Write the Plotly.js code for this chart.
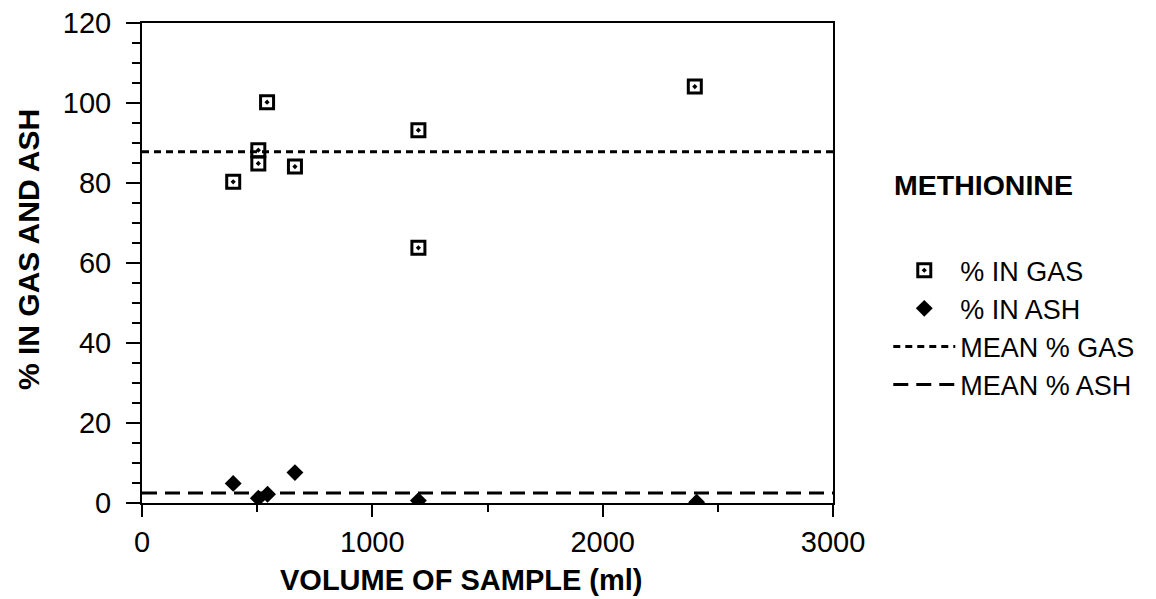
<!DOCTYPE html>
<html><head><meta charset="utf-8">
<script src="https://cdn.plot.ly/plotly-3.0.1.min.js"></script>
<style>html,body{margin:0;padding:0;background:#fff}</style>
</head><body>
<div id="chart" style="width:1156px;height:599px"></div>
<script>
const gasVolume = [396, 505, 505, 543, 664, 1200, 1200, 2400];
const gasPercent = [80.3, 88.2, 84.9, 100.2, 84.1, 93.2, 63.8, 104.1];
const ashVolume = [396, 505, 545, 664, 1200, 2408];
const ashPercent = [4.9, 1.2, 2.2, 7.6, 0.6, 0.2];
const meanRange = [0, 3000];
const meanGas = 87.8;
const meanAsh = 2.5;
const xTicks = [0, 1000, 2000, 3000];
const yTicks = [0, 20, 40, 60, 80, 100, 120];
const seriesNames = ['% IN GAS', '% IN ASH', 'MEAN % GAS', 'MEAN % ASH'];
const compoundName = 'METHIONINE';
const xTitle = 'VOLUME OF SAMPLE (ml)';
const yTitle = '% IN GAS AND ASH';

const FONT = 'Liberation Sans, Arial, Helvetica, sans-serif';

const traces = [
  {x: gasVolume, y: gasPercent, name: seriesNames[0], type: 'scatter', mode: 'markers', legendgroup: 'a',
   marker: {symbol: 'square-open-dot', size: 13, color: 'black', line: {width: 3, color: 'black'}}},
  {x: ashVolume, y: ashPercent, name: seriesNames[1], type: 'scatter', mode: 'markers', legendgroup: 'b',
   marker: {symbol: 'diamond', size: 13, color: 'black'}},
  {x: meanRange, y: [meanGas, meanGas], name: seriesNames[2], type: 'scatter', mode: 'lines', legendgroup: 'c',
   line: {color: 'black', width: 3, dash: '7px,5px'}},
  {x: meanRange, y: [meanAsh, meanAsh], name: seriesNames[3], type: 'scatter', mode: 'lines', legendgroup: 'd',
   line: {color: 'black', width: 3, dash: '15px,8px'}}
];

const axisCommon = {
  showline: true, linewidth: 2, linecolor: 'black', mirror: true,
  showgrid: false, zeroline: false,
  ticks: 'outside', tickwidth: 2, tickcolor: 'black',
  tickfont: {family: FONT, size: 29, color: 'black'}
};

const layout = {
  width: 1156, height: 599,
  paper_bgcolor: 'white', plot_bgcolor: 'white',
  margin: {l: 142, r: 323, t: 23, b: 96},
  showlegend: true,
  font: {family: FONT, color: 'black'},
  xaxis: Object.assign({}, axisCommon, {
    range: [0, 3000], tickmode: 'array', tickvals: xTicks, ticktext: xTicks.map(String),
    ticklen: 12,
    minor: {dtick: 500, tick0: 0, ticks: 'outside', ticklen: 7, tickwidth: 2, tickcolor: 'black'}
  }),
  yaxis: Object.assign({}, axisCommon, {
    range: [0, 120], tickmode: 'array', tickvals: yTicks, ticktext: yTicks.map(String),
    ticklen: 14, ticklabelstandoff: 9,
    minor: {dtick: 5, tick0: 0, ticks: 'outside', ticklen: 8, tickwidth: 2, tickcolor: 'black'}
  }),
  legend: {
    x: 1.08, xanchor: 'left', y: 0.535, yanchor: 'top',
    traceorder: 'grouped', tracegroupgap: 0,
    itemwidth: 62,
    font: {family: FONT, size: 27, color: 'black'},
    bgcolor: 'rgba(0,0,0,0)', borderwidth: 0
  },
  annotations: [
    {text: compoundName, xref: 'paper', yref: 'paper', x: 1.085, y: 0.6625, xanchor: 'left', yanchor: 'middle',
     showarrow: false, font: {family: FONT, size: 28.5, weight: 700, color: 'black'}},
    {text: xTitle, xref: 'paper', yref: 'paper', x: (461 - 142) / 691, y: -(580 - 503) / 480,
     xanchor: 'center', yanchor: 'middle', showarrow: false,
     font: {family: FONT, size: 29, weight: 700, color: 'black'}},
    {text: yTitle, xref: 'paper', yref: 'paper', x: -(142 - 28) / 691, y: (503 - 250) / 480,
     xanchor: 'center', yanchor: 'middle', textangle: -90, showarrow: false,
     font: {family: FONT, size: 30, weight: 700, color: 'black'}}
  ]
};

Plotly.newPlot('chart', traces, layout, {displayModeBar: false, responsive: false});
</script>
</body></html>
